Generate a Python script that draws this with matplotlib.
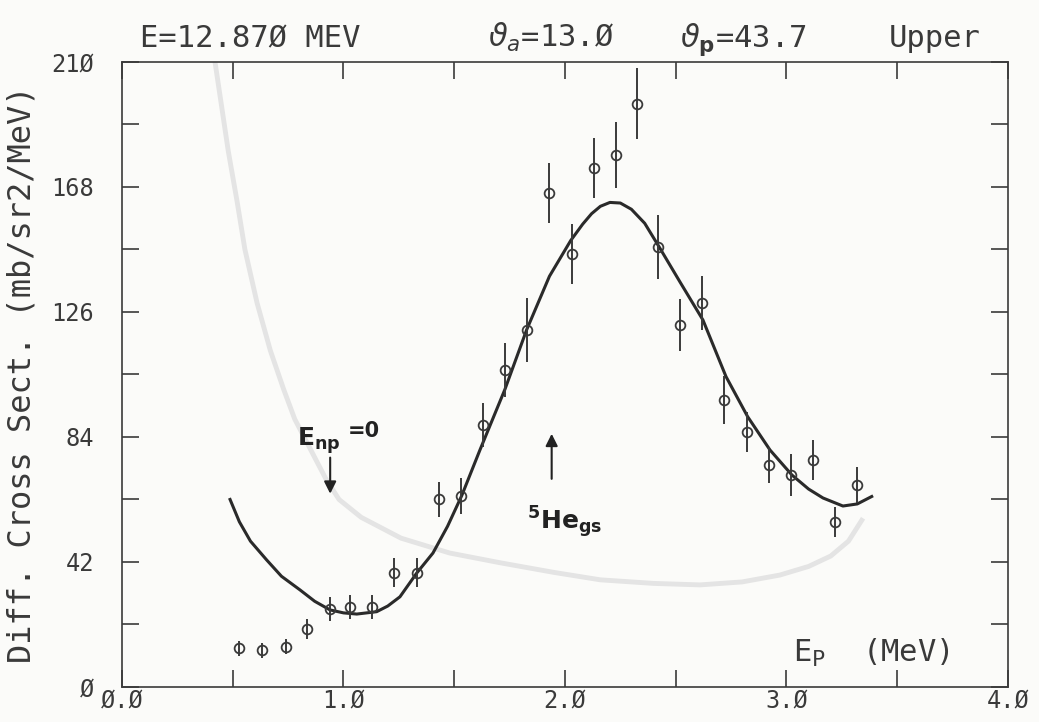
import numpy as np
import matplotlib
matplotlib.use('Agg')
import matplotlib.pyplot as plt
from matplotlib.ticker import FixedLocator, MultipleLocator

# measured points: proton energy (MeV), cross section, error
ep = [0.53, 0.63, 0.74, 0.835, 0.94, 1.03, 1.13, 1.23, 1.33, 1.43,
      1.53, 1.63, 1.73, 1.83, 1.93, 2.03, 2.13, 2.23, 2.325, 2.42,
      2.52, 2.62, 2.72, 2.82, 2.92, 3.02, 3.12, 3.22, 3.32]
xs = [13.0, 12.3, 13.5, 19.4, 26.2, 27.0, 27.0, 38.4, 38.4, 63.0,
      64.2, 88.0, 106.5, 120.0, 166.0, 145.5, 174.4, 178.8, 196.0, 147.8,
      121.6, 129.0, 96.4, 85.7, 74.6, 71.2, 76.3, 55.5, 67.9]
err = [2.5, 2.5, 2.5, 3.4, 4.0, 4.0, 4.0, 4.8, 4.8, 6.0,
       6.0, 7.3, 9.0, 10.7, 10.0, 10.0, 10.0, 11.0, 12.0, 10.7,
       8.7, 9.0, 8.0, 6.7, 6.0, 7.0, 6.7, 5.0, 6.0]

# fitted curve
fit_x = [0.488, 0.53, 0.58, 0.653, 0.72, 0.804, 0.87, 0.939, 1.0, 1.06,
         1.15, 1.20, 1.255, 1.33, 1.404, 1.47, 1.534, 1.616, 1.729, 1.827,
         1.93, 2.026, 2.08, 2.12, 2.16, 2.203, 2.25, 2.30, 2.36, 2.424,
         2.52, 2.623, 2.727, 2.825, 2.926, 3.025, 3.10, 3.165, 3.255, 3.32,
         3.385]
fit_y = [63.0, 55.5, 49.0, 42.7, 37.2, 32.6, 28.8, 25.9, 24.9, 24.5,
         25.3, 27.2, 30.3, 38.2, 45.0, 54.0, 64.3, 79.6, 100.0, 120.0,
         138.0, 150.0, 155.5, 159.0, 161.5, 162.8, 162.6, 160.5, 155.8, 148.0,
         136.0, 123.3, 104.3, 90.8, 79.6, 71.2, 66.5, 63.5, 60.8, 61.5,
         64.0]

# faint curve showing through from the back of the page
ghost_x = [0.42, 0.45, 0.48, 0.52, 0.555, 0.61, 0.67, 0.73, 0.78, 0.85,
           0.92, 0.98, 1.08, 1.26, 1.48, 1.71, 1.95, 2.16, 2.4, 2.61,
           2.8, 2.97, 3.1, 3.2, 3.28, 3.34]
ghost_y = [210, 195, 180, 163, 147, 129, 113, 100, 90, 80,
           70, 63, 57, 50, 45, 41.7, 38.5, 36, 34.8, 34.3,
           35.3, 37.6, 40.5, 44, 49, 56]

xticks = [0, 1, 2, 3, 4]
xlabels = ['Ø.Ø', '1.Ø', '2.Ø', '3.Ø', '4.Ø']
yticks = [0, 42, 84, 126, 168, 210]
ylabels = ['Ø', '42', '84', '126', '168', '21Ø']

ink = '#3a3a3a'
mono = 'DejaVu Sans Mono'

fig = plt.figure(figsize=(10.39, 7.22), dpi=100, facecolor='#fbfbf9')
ax = fig.add_axes([0.1174, 0.0485, 0.8527, 0.8657])
ax.set_facecolor('#fbfbf9')

ax.plot(ghost_x, ghost_y, color='#e4e4e4', lw=3.5, zorder=1)

ax.plot(fit_x, fit_y, color='#2a2a2a', lw=2.2, zorder=3)
ax.errorbar(ep, xs, yerr=err, fmt='o', mfc='none', mec=ink, ms=7, mew=1.3,
            ecolor=ink, elinewidth=1.4, capsize=0, zorder=4)

ax.set_xlim(0, 4)
ax.set_ylim(0, 210)
ax.xaxis.set_major_locator(FixedLocator(xticks))
ax.set_xticklabels(xlabels, family=mono, fontsize=17, color=ink)
ax.xaxis.set_minor_locator(MultipleLocator(0.5))
ax.yaxis.set_major_locator(FixedLocator(yticks))
ax.set_yticklabels(ylabels, family=mono, fontsize=17, color=ink)
ax.yaxis.set_minor_locator(MultipleLocator(21))
ax.tick_params(which='both', direction='in', top=True, right=True,
               length=12, width=1.2, color=ink)
ax.tick_params(axis='x', pad=1)
ax.tick_params(axis='y', pad=20)
for s in ax.spines.values():
    s.set_color(ink)
    s.set_linewidth(1.2)

ax.set_ylabel('Diff. Cross Sect. (mb/sr2/MeV)', family=mono, fontsize=23,
              color=ink, labelpad=10)

# annotations
ax.annotate('', xy=(0.94, 64), xytext=(0.94, 78),
            arrowprops=dict(arrowstyle='-|>', color='#222', lw=1.5, mutation_scale=18))
ax.text(0.79, 81, r'$\mathbf{E_{np}}$', fontsize=18, color='#222')
ax.text(1.02, 84, '=0', fontsize=15, fontweight='bold', color='#222')
ax.annotate('', xy=(1.94, 86), xytext=(1.94, 69),
            arrowprops=dict(arrowstyle='-|>', color='#222', lw=1.5, mutation_scale=18))
ax.text(1.83, 53, r'$\mathbf{^{5}He_{gs}}$', fontsize=18, color='#222')
ax.text(3.03, 8.5, r'E$_\mathrm{P}$  (MeV)', family=mono, fontsize=22, color=ink)

# header line
fig.text(0.135, 0.935, 'E=12.87Ø MEV', family=mono, fontsize=22, color=ink)
fig.text(0.47, 0.935, r'$\vartheta_a$=13.Ø', family=mono, fontsize=22, color=ink)
fig.text(0.654, 0.935, r'$\vartheta_\mathbf{p}$=43.7', family=mono, fontsize=22, color=ink)
fig.text(0.855, 0.935, 'Upper', family=mono, fontsize=22, color=ink)

fig.savefig('out.png', dpi=100, facecolor=fig.get_facecolor())
